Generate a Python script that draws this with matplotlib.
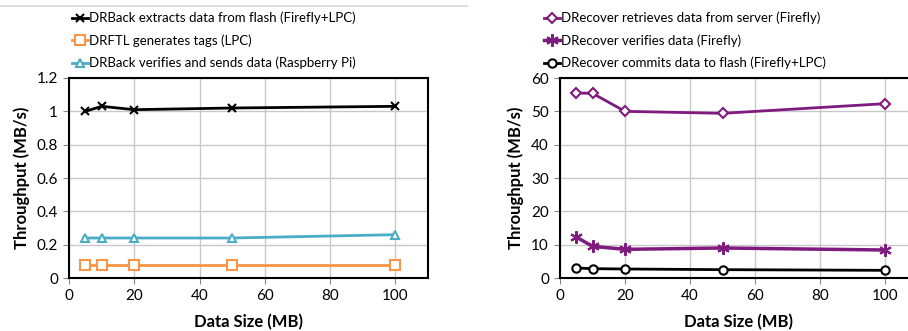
import matplotlib.pyplot as plt
from matplotlib.lines import Line2D
from matplotlib.ticker import FuncFormatter

plt.rcParams['font.family'] = ['Lato', 'DejaVu Sans']

# data sizes (MB)
sizes = [5, 10, 20, 50, 100]

# left panel (MB/s)
extract_flash = [1.00, 1.03, 1.01, 1.02, 1.03]
gen_tags = [0.08, 0.08, 0.08, 0.08, 0.08]
verify_send = [0.24, 0.24, 0.24, 0.24, 0.26]

# right panel (MB/s)
retrieve_server = [55.5, 55.4, 50.0, 49.4, 52.3]
verify_data = [12.3, 9.5, 8.6, 9.0, 8.4]
commit_flash = [3.0, 2.8, 2.7, 2.5, 2.3]

orange = '#F79646'
blue = '#4BACC6'
purple = '#7F1A7F'
grid_c = '#C8C8C8'

fig = plt.figure(figsize=(9.08, 3.31), dpi=100)
ax1 = fig.add_axes([69/908, 53/331, 359/908, 200/331])
ax2 = fig.add_axes([560/908, 53/331, 357.5/908, 200/331])

# chart area border line at top of left chart
fig.add_artist(Line2D([0, 467/908], [1 - 6/331, 1 - 6/331], color='#D9D9D9', lw=1.2))

ax1.plot(sizes, extract_flash, color='black', lw=2, marker='x', ms=6, mew=1.5,
         label='DRBack extracts data from flash (Firefly+LPC)')
ax1.plot(sizes, gen_tags, color=orange, lw=2, marker='s', ms=7.5, mfc='white', mew=1.5,
         label='DRFTL generates tags (LPC)')
ax1.plot(sizes, verify_send, color=blue, lw=2, marker='^', ms=6, mfc='white', mew=1.5,
         label='DRBack verifies and sends data (Raspberry Pi)')
ax1.set_ylim(0, 1.2)
ax1.set_yticks([0, 0.2, 0.4, 0.6, 0.8, 1.0, 1.2])

ax2.plot(sizes, retrieve_server, color=purple, lw=2, marker='D', ms=5, mfc='white', mew=1.5,
         label='DRecover retrieves data from server (Firefly)')
ax2.plot(sizes, verify_data, color=purple, lw=2.5, marker=(6, 2, 0), ms=9, mew=1.5,
         label='DRecover verifies data (Firefly)')
ax2.plot(sizes, commit_flash, color='black', lw=2, marker='o', ms=6, mfc='white', mew=1.5,
         label='DRecover commits data to flash (Firefly+LPC)')
ax2.set_ylim(0, 60)
ax2.set_yticks(range(0, 61, 10))

for ax, lx in ((ax1, 0.0), (ax2, -0.053)):
    ax.set_xlim(0, 110)
    ax.set_xticks(range(0, 101, 20))
    ax.yaxis.set_major_formatter(FuncFormatter(lambda v, p: '%g' % v))
    ax.grid(True, color=grid_c, lw=1)
    ax.set_axisbelow(True)
    for s in ax.spines.values():
        s.set_color('black')
        s.set_linewidth(1.5)
    ax.tick_params(direction='out', length=4, color='#888888', labelsize=11, pad=4)
    ax.set_xlabel('Data Size (MB)', fontsize=12, fontweight='bold', labelpad=8)
    ax.set_ylabel('Throughput (MB/s)', fontsize=12, fontweight='bold', labelpad=5)
    ax.legend(loc='lower left', bbox_to_anchor=(lx, 1.03), frameon=False, fontsize=9.5,
              handlelength=1.25, handletextpad=0.05, labelspacing=0.75, borderpad=0.2,
              borderaxespad=0.0)

fig.savefig('out.png', dpi=100)
